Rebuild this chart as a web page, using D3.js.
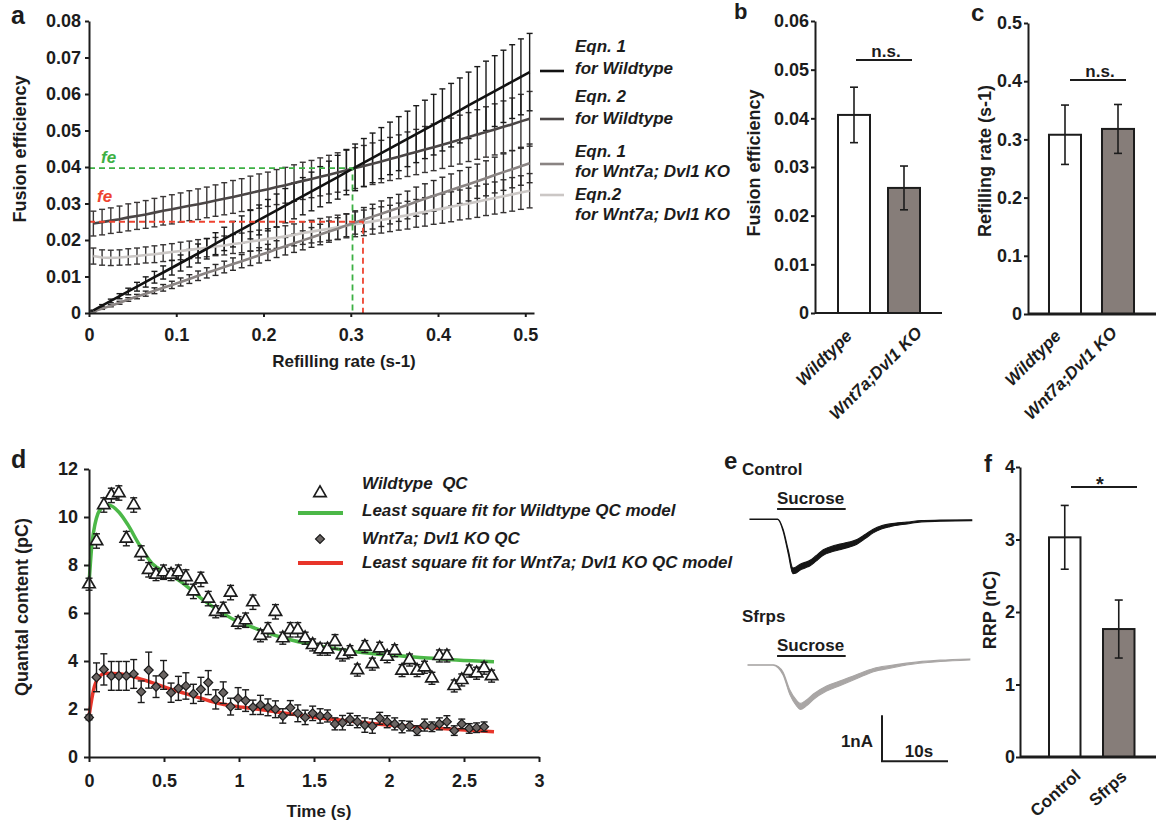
<!DOCTYPE html>
<html><head><meta charset="utf-8">
<script src="https://cdn.jsdelivr.net/npm/d3@7"></script>
<style>body{margin:0;background:#fff}svg{display:block}</style>
</head><body><svg id="c" width="1156" height="821"></svg>
<script>
// ---------------- DATA ----------------
// Panel a: refilling rate vs fusion efficiency (model curves with SEM)
const rates = [0.005,0.015,0.025,0.035,0.045,0.055,0.065,0.075,0.085,0.095,0.105,0.115,0.125,0.135,0.145,0.155,0.165,0.175,0.185,0.195,0.205,0.215,0.225,0.235,0.245,0.255,0.265,0.275,0.285,0.295,0.305,0.315,0.325,0.335,0.345,0.355,0.365,0.375,0.385,0.395,0.405,0.415,0.425,0.435,0.445,0.455,0.465,0.475,0.485,0.495,0.505];
const eqn1WT = [0.0007,0.0020,0.0033,0.0046,0.0059,0.0072,0.0085,0.0098,0.0111,0.0124,0.0137,0.0150,0.0163,0.0176,0.0190,0.0203,0.0216,0.0229,0.0242,0.0255,0.0268,0.0281,0.0294,0.0307,0.0320,0.0333,0.0346,0.0359,0.0372,0.0386,0.0399,0.0412,0.0425,0.0438,0.0451,0.0464,0.0477,0.0490,0.0503,0.0516,0.0529,0.0542,0.0555,0.0569,0.0582,0.0595,0.0608,0.0621,0.0634,0.0647,0.0660];
const err1WT = [0.0001,0.0003,0.0005,0.0007,0.0009,0.0012,0.0014,0.0016,0.0018,0.0020,0.0022,0.0024,0.0026,0.0028,0.0030,0.0032,0.0035,0.0037,0.0039,0.0041,0.0043,0.0045,0.0047,0.0049,0.0051,0.0053,0.0055,0.0057,0.0060,0.0062,0.0064,0.0066,0.0068,0.0070,0.0072,0.0074,0.0076,0.0078,0.0080,0.0083,0.0085,0.0087,0.0089,0.0091,0.0093,0.0095,0.0097,0.0099,0.0101,0.0104,0.0106];
const eqn2WT = [0.0245,0.0249,0.0253,0.0257,0.0262,0.0266,0.0270,0.0275,0.0280,0.0284,0.0289,0.0294,0.0298,0.0303,0.0308,0.0313,0.0318,0.0323,0.0329,0.0334,0.0339,0.0345,0.0350,0.0356,0.0362,0.0367,0.0373,0.0379,0.0385,0.0391,0.0397,0.0403,0.0409,0.0415,0.0422,0.0428,0.0435,0.0441,0.0448,0.0454,0.0461,0.0468,0.0475,0.0482,0.0489,0.0496,0.0503,0.0510,0.0517,0.0525,0.0532];
const err2WT = [0.0034,0.0035,0.0035,0.0036,0.0037,0.0037,0.0038,0.0039,0.0039,0.0040,0.0040,0.0041,0.0042,0.0042,0.0043,0.0044,0.0045,0.0045,0.0046,0.0047,0.0047,0.0048,0.0049,0.0050,0.0051,0.0051,0.0052,0.0053,0.0054,0.0055,0.0056,0.0056,0.0057,0.0058,0.0059,0.0060,0.0061,0.0062,0.0063,0.0064,0.0065,0.0066,0.0067,0.0067,0.0068,0.0069,0.0070,0.0071,0.0072,0.0074,0.0075];
const eqn1KO = [0.0004,0.0012,0.0020,0.0028,0.0037,0.0045,0.0053,0.0061,0.0069,0.0077,0.0085,0.0093,0.0102,0.0110,0.0118,0.0126,0.0134,0.0142,0.0150,0.0158,0.0166,0.0175,0.0183,0.0191,0.0199,0.0207,0.0215,0.0223,0.0231,0.0240,0.0248,0.0256,0.0264,0.0272,0.0280,0.0288,0.0296,0.0305,0.0313,0.0321,0.0329,0.0337,0.0345,0.0353,0.0361,0.0369,0.0378,0.0386,0.0394,0.0402,0.0410];
const err1KO = [0.0001,0.0002,0.0003,0.0004,0.0005,0.0006,0.0007,0.0008,0.0009,0.0010,0.0011,0.0012,0.0013,0.0014,0.0015,0.0016,0.0017,0.0018,0.0020,0.0021,0.0022,0.0023,0.0024,0.0025,0.0026,0.0027,0.0028,0.0029,0.0030,0.0031,0.0032,0.0033,0.0034,0.0035,0.0036,0.0037,0.0038,0.0040,0.0041,0.0042,0.0043,0.0044,0.0045,0.0046,0.0047,0.0048,0.0049,0.0050,0.0051,0.0052,0.0053];
const eqn2KO = [0.0156,0.0152,0.0151,0.0152,0.0154,0.0156,0.0159,0.0161,0.0164,0.0167,0.0170,0.0173,0.0176,0.0179,0.0182,0.0185,0.0189,0.0192,0.0196,0.0199,0.0203,0.0206,0.0210,0.0214,0.0219,0.0223,0.0227,0.0231,0.0235,0.0239,0.0243,0.0247,0.0251,0.0255,0.0259,0.0264,0.0268,0.0273,0.0277,0.0282,0.0286,0.0291,0.0296,0.0300,0.0305,0.0310,0.0315,0.0320,0.0325,0.0330,0.0335];
const err2KO = [0.0022,0.0021,0.0021,0.0021,0.0022,0.0022,0.0022,0.0023,0.0023,0.0023,0.0024,0.0024,0.0025,0.0025,0.0025,0.0026,0.0026,0.0027,0.0027,0.0028,0.0028,0.0029,0.0029,0.0030,0.0031,0.0031,0.0032,0.0032,0.0033,0.0033,0.0034,0.0035,0.0035,0.0036,0.0036,0.0037,0.0038,0.0038,0.0039,0.0039,0.0040,0.0041,0.0041,0.0042,0.0043,0.0043,0.0044,0.0045,0.0046,0.0046,0.0047];
const aSeriesNames = [["Eqn. 1","for Wildtype"],["Eqn. 2","for Wildtype"],["Eqn. 1","for Wnt7a; Dvl1 KO"],["Eqn.2","for Wnt7a; Dvl1 KO"]];
const aXTicks = [0,0.1,0.2,0.3,0.4,0.5];
const aXLabels = ["0","0.1","0.2","0.3","0.4","0.5"];
const aYTicks = [0,0.01,0.02,0.03,0.04,0.05,0.06,0.07,0.08];
const aYLabels = ["0","0.01","0.02","0.03","0.04","0.05","0.06","0.07","0.08"];
const feWT = 0.0397, rateWT = 0.302;   // green guide
const feKO = 0.0250, rateKO = 0.314;   // red guide

// Panel b
const bCats = ["Wildtype","Wnt7a;Dvl1 KO"];
const bVals = [0.0407, 0.0257];
const bErrs = [0.0057, 0.0045];
const bYTicks = [0,0.01,0.02,0.03,0.04,0.05,0.06];
const bYLabels = ["0","0.01","0.02","0.03","0.04","0.05","0.06"];
// Panel c
const cCats = ["Wildtype","Wnt7a;Dvl1 KO"];
const cVals = [0.308, 0.318];
const cErrs = [0.051, 0.042];
const cYTicks = [0,0.1,0.2,0.3,0.4,0.5];
const cYLabels = ["0","0.1","0.2","0.3","0.4","0.5"];

// Panel d: quantal content
const qcTime = [0,0.050,0.099,0.149,0.199,0.249,0.298,0.348,0.398,0.447,0.497,0.547,0.596,0.646,0.696,0.746,0.795,0.845,0.895,0.944,0.994,1.044,1.093,1.143,1.193,1.243,1.292,1.342,1.392,1.441,1.491,1.541,1.590,1.640,1.690,1.740,1.789,1.839,1.889,1.938,1.988,2.038,2.087,2.137,2.187,2.237,2.286,2.336,2.386,2.435,2.485,2.535,2.584,2.634,2.684];
const wtQC = [7.2,9.0,10.5,10.9,11.0,9.1,10.5,8.5,7.8,7.6,7.7,7.6,7.7,7.5,6.9,7.4,6.6,6.05,6.15,6.85,5.6,5.7,6.45,5.05,5.3,6.05,4.95,5.3,5.3,4.95,4.67,4.49,4.49,4.8,4.25,4.39,3.62,4.6,3.87,4.53,4.18,4.43,3.6,4.04,3.6,3.74,3.28,4.21,4.21,2.96,3.21,3.58,3.49,3.7,3.37];
const wtErr = [0.25,0.3,0.3,0.3,0.3,0.3,0.3,0.3,0.3,0.25,0.3,0.25,0.3,0.3,0.3,0.3,0.3,0.25,0.3,0.3,0.25,0.3,0.3,0.25,0.3,0.3,0.25,0.3,0.3,0.25,0.25,0.25,0.25,0.3,0.25,0.25,0.25,0.25,0.25,0.25,0.25,0.25,0.25,0.25,0.25,0.25,0.25,0.25,0.25,0.25,0.25,0.25,0.25,0.25,0.25];
const koQC = [1.65,3.32,3.65,3.38,3.38,3.38,3.46,2.72,3.62,2.93,3.42,2.68,2.86,2.96,2.63,2.82,3.10,2.40,2.68,2.10,2.44,2.35,2.07,2.17,2.07,1.99,1.71,2.05,1.82,1.65,1.82,1.71,1.71,1.38,1.43,1.57,1.47,1.33,1.29,1.61,1.47,1.38,1.26,1.29,1.10,1.33,1.26,1.38,1.47,1.10,1.38,1.19,1.22,1.26];
const koErr = [0.1,0.6,0.65,0.6,0.6,0.6,0.6,0.45,0.75,0.45,0.6,0.4,0.5,0.55,0.4,0.5,0.5,0.4,0.45,0.35,0.45,0.45,0.3,0.4,0.35,0.35,0.3,0.3,0.35,0.3,0.3,0.3,0.25,0.25,0.3,0.25,0.25,0.3,0.3,0.25,0.25,0.25,0.25,0.2,0.2,0.25,0.2,0.25,0.25,0.2,0.2,0.2,0.2,0.2];
const wtFitT = [0,0.02,0.04,0.06,0.09,0.13,0.2,0.26,0.33,0.42,0.53,0.64,0.75,0.86,0.97,1.08,1.2,1.31,1.43,1.56,1.78,2.0,2.23,2.45,2.7];
const wtFitV = [7.2,8.9,9.7,10.15,10.4,10.5,10.2,9.67,8.9,8.07,7.65,7.17,6.6,6.12,5.71,5.43,5.15,4.94,4.76,4.6,4.39,4.25,4.14,4.04,3.97];
const koFitT = [0,0.03,0.06,0.11,0.2,0.31,0.42,0.53,0.64,0.75,0.86,0.97,1.08,1.2,1.31,1.43,1.56,1.78,2.0,2.23,2.45,2.7];
const koFitV = [1.7,2.79,3.28,3.49,3.47,3.32,3.1,2.86,2.65,2.44,2.24,2.12,2.03,1.93,1.82,1.72,1.61,1.47,1.33,1.24,1.15,1.05];
const dLegend = ["Wildtype  QC","Least square fit for Wildtype QC model","Wnt7a; Dvl1 KO QC","Least square fit for Wnt7a; Dvl1 KO QC model"];
const dXTicks = [0,0.5,1,1.5,2,2.5,3];
const dXLabels = ["0","0.5","1","1.5","2","2.5","3"];
const dYTicks = [0,2,4,6,8,10,12];

// Panel e: sucrose-evoked currents (s, nA) and noise half-width
const ctrlT = [0,4.2,5.0,5.8,6.5,7.0,7.6,8.5,9.1,10,11.1,12.3,13.6,15,16.2,17.5,18.6,20,21.2,23.8,26,28.8,33.6];
const ctrlI = [0,0,-0.23,-0.71,-1.12,-1.10,-1.04,-0.99,-0.95,-0.85,-0.72,-0.65,-0.6,-0.55,-0.49,-0.37,-0.26,-0.17,-0.13,-0.08,-0.04,-0.03,-0.02];
const ctrlN = [0.005,0.005,0.02,0.04,0.06,0.065,0.065,0.06,0.06,0.06,0.06,0.06,0.06,0.055,0.05,0.045,0.04,0.035,0.03,0.02,0.015,0.012,0.01];
const sfT = [-0.3,3.5,4.3,5.0,6.06,7.0,7.6,8.5,9.6,11.6,13.6,16.2,18.7,21.2,23.7,28.8,33.3];
const sfI = [0,0,-0.05,-0.18,-0.6,-0.82,-0.9,-0.83,-0.69,-0.51,-0.4,-0.25,-0.11,-0.04,0.02,0.09,0.12];
const sfN = [0.005,0.005,0.015,0.03,0.05,0.06,0.065,0.065,0.06,0.055,0.05,0.045,0.035,0.03,0.02,0.015,0.012];
const sucrose = [4.1, 14.5];      // application window (s)
const scaleBarNA = 1, scaleBarS = 10;

// Panel f
const fCats = ["Control","Sfrps"];
const fVals = [3.03, 1.765];
const fErrs = [0.44, 0.40];
const fYTicks = [0,1,2,3,4];

// ---------------- DRAWING ----------------
const FONT = '"Liberation Sans", Arial, Helvetica, sans-serif';
const INK = "#1c1c1c";
const svg = d3.select("#c");

function label(x, y, s, o = {}) {
  const t = svg.append("text")
    .attr("transform", `translate(${x},${y})` + (o.rotate ? ` rotate(${o.rotate})` : ""))
    .attr("text-anchor", o.anchor || "start")
    .attr("font-size", o.size || 17)
    .attr("font-weight", "bold")
    .attr("font-family", FONT)
    .attr("fill", o.fill || INK)
    .style("white-space", "pre")
    .text(s);
  if (o.italic) t.attr("font-style", "italic");
  return t;
}
function styleAxis(g, fs, w) {
  g.attr("font-family", FONT).attr("font-size", fs);
  g.select(".domain").attr("stroke", INK).attr("stroke-width", w || 2);
  g.selectAll(".tick line").attr("stroke", INK).attr("stroke-width", 2);
  g.selectAll(".tick text").attr("fill", INK).attr("font-weight", "bold");
}
function errBar(g, x, y1, y2, hw, color, w) {
  g.append("line").attr("x1", x).attr("x2", x).attr("y1", y1).attr("y2", y2).attr("stroke", color).attr("stroke-width", w);
  g.append("line").attr("x1", x - hw).attr("x2", x + hw).attr("y1", y1).attr("y2", y1).attr("stroke", color).attr("stroke-width", w);
  g.append("line").attr("x1", x - hw).attr("x2", x + hw).attr("y1", y2).attr("y2", y2).attr("stroke", color).attr("stroke-width", w);
}

// ===== Panel a =====
{
  const x = d3.scaleLinear().domain([0, 0.51]).range([89, 534]);
  const y = d3.scaleLinear().domain([0, 0.08]).range([313, 21]);
  const g = svg.append("g");
  const series = [
    {v: eqn1WT, e: err1WT, line: "#121212", bar: "#1a1a1a"},
    {v: eqn2WT, e: err2WT, line: "#4b4646", bar: "#3a3636"},
    {v: eqn1KO, e: err1KO, line: "#8a8483", bar: "#2c2a2a"},
    {v: eqn2KO, e: err2KO, line: "#cbc7c5", bar: "#363333"}
  ];
  [1, 3, 2, 0].forEach(k => {
    const s = series[k];
    rates.forEach((r, i) => errBar(g, x(r), y(s.v[i] - s.e[i]), y(s.v[i] + s.e[i]), 3, s.bar, 1.4));
  });
  const ln = d3.line().x((d, i) => x(rates[i])).y(d => y(d));
  [3, 2, 1, 0].forEach(k => {
    g.append("path").attr("d", ln(series[k].v)).attr("fill", "none")
      .attr("stroke", series[k].line).attr("stroke-width", 2.6);
  });
  g.append("path").attr("d", `M${x(0)},${y(feWT)}H${x(rateWT)}V${y(0)}`).attr("fill", "none")
    .attr("stroke", "#3cb043").attr("stroke-width", 1.8).attr("stroke-dasharray", "6,4");
  g.append("path").attr("d", `M${x(0)},${y(feKO)}H${x(rateKO)}V${y(0)}`).attr("fill", "none")
    .attr("stroke", "#ee4330").attr("stroke-width", 1.8).attr("stroke-dasharray", "6,4");
  label(101, 163, "fe", {italic: true, fill: "#3cb043"});
  label(97, 202, "fe", {italic: true, fill: "#ee4330"});
  const xa = g.append("g").attr("transform", "translate(0,313)")
    .call(d3.axisBottom(x).tickValues(aXTicks).tickFormat((d, i) => aXLabels[i]).tickSize(4).tickSizeOuter(0).tickPadding(11));
  styleAxis(xa, 18);
  const ya = g.append("g").attr("transform", "translate(89,0)")
    .call(d3.axisLeft(y).tickValues(aYTicks).tickFormat((d, i) => aYLabels[i]).tickSize(4).tickSizeOuter(0).tickPadding(4));
  styleAxis(ya, 18);
  label(26, 149, "Fusion efficiency", {size: 18, anchor: "middle", rotate: -90});
  label(344, 367, "Refilling rate (s-1)", {size: 17, anchor: "middle"});
  label(11, 24, "a", {size: 25});
  const legLineY = [71, 119, 164, 195];
  const legT1 = [52, 102, 157, 200];
  const legT2 = [74, 124, 177, 220];
  aSeriesNames.forEach((nm, k) => {
    g.append("line").attr("x1", 540).attr("x2", 564).attr("y1", legLineY[k]).attr("y2", legLineY[k])
      .attr("stroke", series[k].line).attr("stroke-width", 2.6);
    label(575, legT1[k], nm[0], {italic: true});
    label(575, legT2[k], nm[1], {italic: true});
  });
}

// ===== generic bar panel =====
function barPanel(o) {
  const g = svg.append("g");
  const x = d3.scaleBand().domain(o.cats).range(o.xr).paddingInner(o.pi).paddingOuter(o.po);
  const y = d3.scaleLinear().domain(o.yd).range(o.yr);
  o.cats.forEach((c, i) => {
    g.append("rect").attr("x", x(c)).attr("y", y(o.vals[i])).attr("width", x.bandwidth())
      .attr("height", y(0) - y(o.vals[i])).attr("fill", o.fills[i]).attr("stroke", INK).attr("stroke-width", 2);
    errBar(g, x(c) + x.bandwidth() / 2, y(o.vals[i] - o.errs[i]), y(o.vals[i] + o.errs[i]), 4, INK, 1.6);
  });
  const ya = g.append("g").attr("transform", `translate(${o.xr[0]},0)`)
    .call(d3.axisLeft(y).tickValues(o.yt).tickFormat((d, i) => o.yl[i]).tickSize(4).tickSizeOuter(0).tickPadding(o.tp));
  styleAxis(ya, 18);
  g.append("line").attr("x1", o.xr[0]).attr("x2", o.xEnd).attr("y1", y(0)).attr("y2", y(0))
    .attr("stroke", INK).attr("stroke-width", o.xw);
  o.cats.forEach((c, i) => {
    label(x(c) + x.bandwidth() / 2 + o.lblDx[i], o.lblY[i], c, {italic: o.italic, anchor: "end", rotate: o.rot || -45, size: o.lsize || 17});
  });
  return {x, y, g};
}

// Panel b
{
  const p = barPanel({cats: bCats, vals: bVals, errs: bErrs, xr: [815, 943], pi: 0.36, po: 0.46,
    yd: [0, 0.06], yr: [313, 21], yt: bYTicks, yl: bYLabels, tp: 2, fills: ["#ffffff", "#867d79"],
    xEnd: 942, xw: 2, lblDx: [-1, 19], lblY: [337, 334], italic: true});
  p.g.append("line").attr("x1", 856).attr("x2", 912).attr("y1", 60).attr("y2", 60).attr("stroke", INK).attr("stroke-width", 2);
  label(886, 57, "n.s.", {anchor: "middle"});
  label(760, 163, "Fusion efficiency", {size: 18, anchor: "middle", rotate: -90});
  label(734, 19, "b", {size: 22});
}
// Panel c
{
  const p = barPanel({cats: cCats, vals: cVals, errs: cErrs, xr: [1028, 1155], pi: 0.396, po: 0.396,
    yd: [0, 0.5], yr: [314, 23], yt: cYTicks, yl: cYLabels, tp: 2, fills: ["#ffffff", "#867d79"],
    xEnd: 1156, xw: 3, lblDx: [-3, 0], lblY: [337, 334], italic: true});
  p.g.append("line").attr("x1", 1070).attr("x2", 1126).attr("y1", 80).attr("y2", 80).attr("stroke", INK).attr("stroke-width", 2);
  label(1100, 77, "n.s.", {anchor: "middle"});
  label(991, 161, "Refilling rate (s-1)", {size: 18, anchor: "middle", rotate: -90});
  label(971, 21, "c", {size: 24});
}

// ===== Panel d =====
{
  const g = svg.append("g");
  const x = d3.scaleLinear().domain([0, 3]).range([89, 539]);
  const y = d3.scaleLinear().domain([0, 12]).range([757, 469]);
  const fit = d3.line().curve(d3.curveMonotoneX);
  g.append("path").attr("d", fit(wtFitT.map((t, i) => [x(t), y(wtFitV[i])]))).attr("fill", "none")
    .attr("stroke", "#4cb848").attr("stroke-width", 3.5);
  g.append("path").attr("d", fit(koFitT.map((t, i) => [x(t), y(koFitV[i])]))).attr("fill", "none")
    .attr("stroke", "#e8352a").attr("stroke-width", 3.5);
  const tri = d3.symbol().type(d3.symbolTriangle).size(66);
  const sq = d3.symbol().type(d3.symbolSquare).size(40);
  wtQC.forEach((v, i) => errBar(g, x(qcTime[i]), y(v - wtErr[i]), y(v + wtErr[i]), 3.5, INK, 1.4));
  wtQC.forEach((v, i) => g.append("path").attr("d", tri()).attr("transform", `translate(${x(qcTime[i])},${y(v)})`)
    .attr("fill", "#fff").attr("stroke", INK).attr("stroke-width", 1.7));
  koQC.forEach((v, i) => errBar(g, x(qcTime[i]), y(v - koErr[i]), y(v + koErr[i]), 3.5, INK, 1.4));
  koQC.forEach((v, i) => g.append("path").attr("d", sq()).attr("transform", `translate(${x(qcTime[i])},${y(v)}) rotate(45)`)
    .attr("fill", "#6b6563").attr("stroke", INK).attr("stroke-width", 1.2));
  const xa = g.append("g").attr("transform", "translate(0,757)")
    .call(d3.axisBottom(x).tickValues(dXTicks).tickFormat((d, i) => dXLabels[i]).tickSize(5).tickSizeOuter(0).tickPadding(12));
  styleAxis(xa, 18);
  const ya = g.append("g").attr("transform", "translate(89,0)")
    .call(d3.axisLeft(y).tickValues(dYTicks).tickSize(5).tickSizeOuter(0).tickPadding(6));
  styleAxis(ya, 18);
  label(28, 607, "Quantal content (pC)", {size: 18, anchor: "middle", rotate: -90});
  label(319, 817, "Time (s)", {size: 17, anchor: "middle"});
  label(11, 468, "d", {size: 25});
  g.append("path").attr("d", tri()).attr("transform", "translate(320,493)").attr("fill", "#fff").attr("stroke", INK).attr("stroke-width", 1.7);
  g.append("line").attr("x1", 298).attr("x2", 343).attr("y1", 513).attr("y2", 513).attr("stroke", "#4cb848").attr("stroke-width", 4);
  g.append("path").attr("d", sq()).attr("transform", "translate(320,539) rotate(45)").attr("fill", "#6b6563").attr("stroke", INK).attr("stroke-width", 1.2);
  g.append("line").attr("x1", 298).attr("x2", 343).attr("y1", 563).attr("y2", 563).attr("stroke", "#e8352a").attr("stroke-width", 4);
  const ly = [489, 516, 544, 568];
  dLegend.forEach((s, k) => label(362, ly[k], s, {italic: true}));
}

// ===== Panel e =====
{
  const g = svg.append("g");
  const x = d3.scaleLinear().domain([0, 10]).range([750, 816]);
  const yC = d3.scaleLinear().domain([0, -1]).range([519.3, 565.3]);
  const yS = d3.scaleLinear().domain([0, -1]).range([665, 711]);
  function trace(T, I, N, ys, col) {
    const area = d3.area().curve(d3.curveMonotoneX).x((d, i) => x(T[i])).y0((d, i) => ys(I[i] - N[i])).y1((d, i) => ys(I[i] + N[i]));
    g.append("path").attr("d", area(T)).attr("fill", col).attr("stroke", col).attr("stroke-width", 1.1);
  }
  trace(ctrlT, ctrlI, ctrlN, yC, "#151515");
  trace(sfT, sfI, sfN, yS, "#a9a6a5");
  g.append("line").attr("x1", x(sucrose[0])).attr("x2", x(sucrose[1])).attr("y1", 509).attr("y2", 509).attr("stroke", INK).attr("stroke-width", 2.2);
  g.append("line").attr("x1", x(sucrose[0])).attr("x2", x(sucrose[1])).attr("y1", 656).attr("y2", 656).attr("stroke", INK).attr("stroke-width", 2.2);
  label(742, 475, "Control");
  label(777, 504, "Sucrose");
  label(742, 622, "Sfrps");
  label(777, 651, "Sucrose");
  const sbT = 20, sbI = -2.09;
  g.append("path").attr("d", `M${x(sbT)},${yS(sbI + scaleBarNA)}V${yS(sbI)}H${x(sbT + scaleBarS)}`)
    .attr("fill", "none").attr("stroke", INK).attr("stroke-width", 2);
  label(873, 747, "1nA", {anchor: "end"});
  label(919, 757, "10s", {anchor: "middle"});
  label(724, 469, "e", {size: 24});
}

// ===== Panel f =====
{
  const p = barPanel({cats: fCats, vals: fVals, errs: fErrs, xr: [1020, 1163.5], pi: 0.417, po: 0.537,
    yd: [0, 4], yr: [757, 467], yt: fYTicks, yl: ["0","1","2","3","4"], tp: 1, fills: ["#ffffff", "#867d79"],
    xEnd: 1156, xw: 3, lblDx: [17, 9], lblY: [777, 778], italic: false, rot: -42});
  p.g.append("line").attr("x1", 1071).attr("x2", 1137).attr("y1", 487).attr("y2", 487).attr("stroke", INK).attr("stroke-width", 2);
  label(1100, 491, "*", {anchor: "middle", size: 20});
  label(996, 610, "RRP (nC)", {size: 18, anchor: "middle", rotate: -90});
  label(984, 472, "f", {size: 24});
}
</script></body></html>
